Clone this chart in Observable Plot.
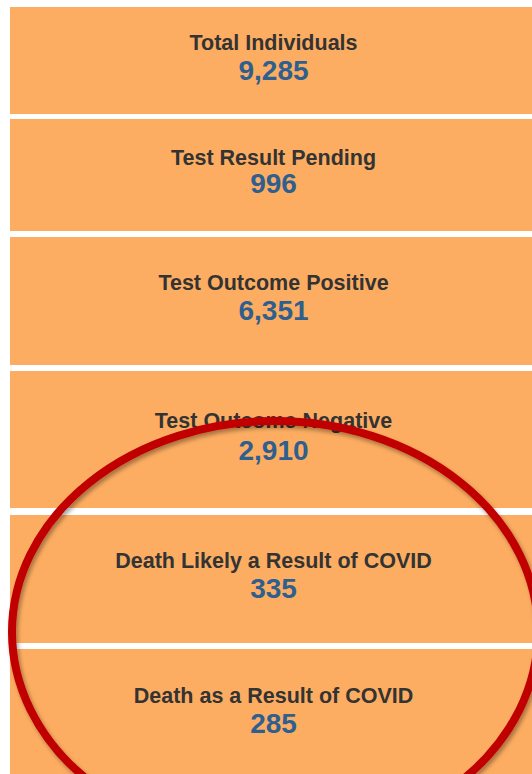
<!DOCTYPE html>
<html>
<head>
<meta charset="utf-8">
<script src="https://cdn.jsdelivr.net/npm/d3@7"></script>
<script src="https://cdn.jsdelivr.net/npm/@observablehq/plot@0.6"></script>
<style>
  html, body { margin: 0; padding: 0; background: #ffffff; }
  svg { display: block; }
</style>
</head>
<body>
<div id="chart"></div>
<script>
// Data
const labels = [
  "Total Individuals",
  "Test Result Pending",
  "Test Outcome Positive",
  "Test Outcome Negative",
  "Death Likely a Result of COVID",
  "Death as a Result of COVID"
];
const values = [9285, 996, 6351, 2910, 335, 285];

// Layout (pixel space of the 532x774 card stack)
const boxTop    = [7, 119, 237, 371, 515, 649];
const boxBottom = [114, 231, 365, 508, 643, 790];
const labelBase = [49, 164, 289, 427, 567, 702];
const valueBase = [79, 192, 319, 459, 597, 732];
const ring = {cx: 275, cy: 632, rx: 263, ry: 211};

const fmt = d3.format(",");
const rows = labels.map((l, i) => ({
  label: l, value: values[i],
  y1: boxTop[i], y2: boxBottom[i],
  ly: labelBase[i] - 0.32 * 21.5,
  vy: valueBase[i] - 0.32 * 28
}));

const ellipseMark = (index, scales) => {
  const ns = "http://www.w3.org/2000/svg";
  const g = document.createElementNS(ns, "g");
  const defs = document.createElementNS(ns, "defs");
  defs.innerHTML = `<filter id="sh" x="-10%" y="-10%" width="120%" height="120%">
    <feDropShadow dx="2" dy="3" stdDeviation="2" flood-color="#000" flood-opacity="0.35"/></filter>`;
  g.appendChild(defs);
  const e = document.createElementNS(ns, "ellipse");
  const cx = scales.x(ring.cx), cy = scales.y(ring.cy);
  e.setAttribute("cx", cx);
  e.setAttribute("cy", cy);
  e.setAttribute("rx", scales.x(ring.cx + ring.rx) - cx);
  e.setAttribute("ry", scales.y(ring.cy + ring.ry) - cy);
  e.setAttribute("fill", "none");
  e.setAttribute("stroke", "#c00000");
  e.setAttribute("stroke-width", 8);
  e.setAttribute("filter", "url(#sh)");
  g.appendChild(e);
  return g;
};

const chart = Plot.plot({
  width: 532,
  height: 774,
  margin: 0,
  style: {background: "#ffffff", fontFamily: "'Liberation Sans', Arial, sans-serif"},
  x: {domain: [0, 532], range: [0, 532], axis: null},
  y: {domain: [0, 774], range: [0, 774], axis: null},
  marks: [
    Plot.rect(rows, {x1: 10, x2: 545, y1: "y1", y2: "y2", fill: "#fdad61"}),
    Plot.text(rows, {x: 273, y: "ly", text: "label", fontSize: 21.5, fontWeight: "bold", fill: "#333333", lineAnchor: "middle"}),
    Plot.text(rows, {x: 273, y: "vy", text: d => fmt(d.value), fontSize: 28, fontWeight: "bold", fill: "#2f5f8e", lineAnchor: "middle"}),
    ellipseMark
  ]
});
document.getElementById("chart").appendChild(chart);
</script>
</body>
</html>
